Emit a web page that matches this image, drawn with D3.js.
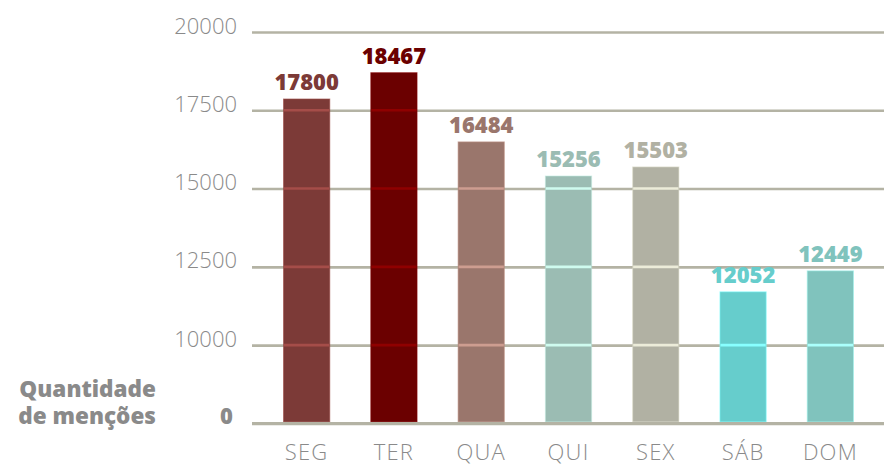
<!DOCTYPE html>
<html>
<head>
<meta charset="utf-8">
<script src="https://cdn.jsdelivr.net/npm/d3@7"></script>
<style>
  body { margin: 0; background: #fff; }
  .eixo text { font-family: "Open Sans", sans-serif; fill: #8a8a8a; }
</style>
</head>
<body>
<div id="chart"></div>
<script>
// menções por dia da semana
var dias = ["SEG", "TER", "QUA", "QUI", "SEX", "SÁB", "DOM"];
var totais = [17800, 18467, 16484, 15256, 15503, 12052, 12449];   // numbers printed on the bars
var alturas = [17860, 18700, 16490, 15400, 15690, 11700, 12370];  // bar heights as drawn in the picture
var cores = ["#7c3a37", "#6b0000", "#9a766c", "#9bbcb3", "#b1b1a3", "#66cdcc", "#80c3bd"];
var yTicks = [7500, 10000, 12500, 15000, 17500, 20000];
var yTickLabels = ["0", "10000", "12500", "15000", "17500", "20000"];
var tituloY = ["Quantidade", "de menções"];

var width = 884,
    height = 466,
    left = 252,
    gridColor = "#b4b3a4",
    fonte = "'Open Sans', sans-serif";

var svg = d3.select("#chart")
    .append("svg")
    .attr("width", width)
    .attr("height", height);

var y = d3.scaleLinear()
    .domain([7500, 20000])
    .range([423.3, 32]);

var x = d3.scaleBand()
    .domain(dias)
    .range([263, 874])
    .paddingInner(0.47)
    .paddingOuter(0.235);

// grid + y labels
var gy = svg.append("g")
    .attr("class", "eixo")
    .attr("transform", "translate(" + left + ",0)")
    .call(d3.axisLeft(y)
      .tickValues(yTicks)
      .tickSize(-(width - left))
      .tickPadding(15)
      .tickFormat(function(d, i) { return yTickLabels[i]; }));

gy.select(".domain").remove();
gy.selectAll(".tick line")
    .attr("stroke", gridColor)
    .attr("stroke-width", 2.7);
gy.selectAll(".tick text")
    .attr("font-size", 22)
    .attr("font-weight", 300)
    .attr("dy", "0.05em")
    .filter(function(d) { return d === 7500; })
      .attr("font-weight", 800)
      .attr("font-size", 22)
      .attr("x", -19)
      .attr("dy", "0.03em");

// bars
var base = y(7500) - 1.4;

svg.selectAll(".barra")
    .data(dias)
    .enter().append("rect")
    .attr("class", "barra")
    .attr("x", function(d) { return x(d); })
    .attr("width", x.bandwidth())
    .attr("y", function(d, i) { return y(alturas[i]); })
    .attr("height", function(d, i) { return base - y(alturas[i]); })
    .attr("fill", function(d, i) { return cores[i]; })
    .attr("stroke", function(d, i) { return dodge(cores[i], 0.8); })
    .attr("stroke-width", 1)
    .attr("stroke-opacity", 0.6);

// gridlines look "dodged" where they cross a bar
dias.forEach(function(d, i) {
  var linhas = yTicks.filter(function(t) { return t > 7500 && y(t) > y(alturas[i]) + 1; });
  svg.selectAll(".brilho" + i)
    .data(linhas)
    .enter().append("line")
    .attr("x1", x(d) + 0.5)
    .attr("x2", x(d) + x.bandwidth() - 0.5)
    .attr("y1", function(t) { return y(t); })
    .attr("y2", function(t) { return y(t); })
    .attr("stroke", dodge(cores[i], 0.75))
    .attr("stroke-width", 2.7);
});

function dodge(c, k) {
  var r = d3.rgb(c);
  return d3.rgb(Math.min(255, r.r / k), Math.min(255, r.g / k), Math.min(255, r.b / k)).formatHex();
}

// baseline over the bar feet
svg.append("line")
    .attr("x1", left)
    .attr("x2", width)
    .attr("y1", y(7500))
    .attr("y2", y(7500))
    .attr("stroke", gridColor)
    .attr("stroke-width", 2.7);

// value labels
svg.selectAll(".valor")
    .data(dias)
    .enter().append("text")
    .attr("class", "valor")
    .attr("x", function(d) { return x(d) + x.bandwidth() / 2; })
    .attr("y", function(d, i) { return y(alturas[i]) - 9; })
    .attr("text-anchor", "middle")
    .attr("font-family", fonte)
    .attr("font-weight", 800)
    .attr("font-size", 22)
    .attr("fill", function(d, i) { return cores[i]; })
    .text(function(d, i) { return totais[i]; });

// x axis labels
var gx = svg.append("g")
    .attr("class", "eixo")
    .attr("transform", "translate(0," + y(7500) + ")")
    .call(d3.axisBottom(x).tickSize(0).tickPadding(21));

gx.select(".domain").remove();
gx.selectAll(".tick text")
    .attr("font-size", 22)
    .attr("font-weight", 300)
    .attr("letter-spacing", 1.2);

// y title
svg.append("text")
    .attr("text-anchor", "end")
    .attr("font-family", fonte)
    .attr("font-weight", 800)
    .attr("font-size", 22.5)
    .attr("fill", "#8a8a8a")
    .selectAll("tspan")
    .data(tituloY)
    .enter().append("tspan")
    .attr("x", 156)
    .attr("y", function(d, i) { return 397 + i * 27; })
    .text(function(d) { return d; });
</script>
</body>
</html>
